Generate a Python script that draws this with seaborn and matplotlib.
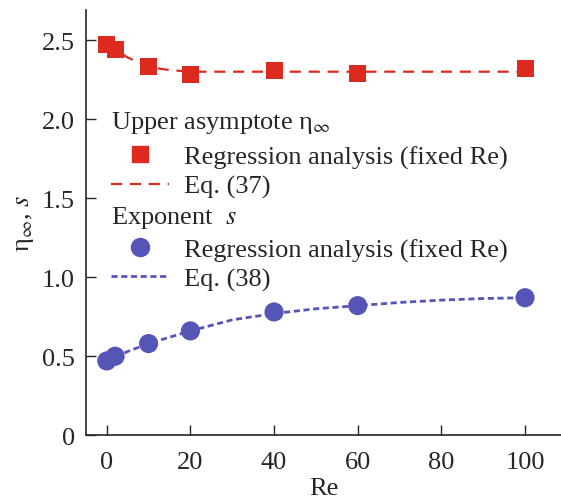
import matplotlib
matplotlib.use("Agg")
import matplotlib.pyplot as plt
import seaborn as sns
import pandas as pd
from matplotlib.lines import Line2D

# Data
re_pts = [0, 2, 10, 20, 40, 60, 100]
eta_pts = [2.47, 2.44, 2.33, 2.28, 2.31, 2.29, 2.32]
s_pts = [0.47, 0.50, 0.58, 0.66, 0.78, 0.82, 0.87]

re_eq37 = [0, 5, 10, 15, 20, 30, 40, 60, 80, 100]
eta_eq37 = [2.47, 2.39, 2.33, 2.31, 2.30, 2.30, 2.30, 2.30, 2.30, 2.30]

re_eq38 = [0, 5, 10, 20, 30, 40, 50, 60, 70, 80, 90, 100]
s_eq38 = [0.47, 0.53, 0.58, 0.66, 0.73, 0.77, 0.80, 0.82, 0.84, 0.855, 0.865, 0.87]

xticks = [0, 20, 40, 60, 80, 100]
yticks = [0, 0.5, 1.0, 1.5, 2.0, 2.5]
yticklabels = ["0", "0.5", "1.0", "1.5", "2.0", "2.5"]

RED = "#dc2a1e"
BLUE = "#5555b8"
FS = 19

sns.set_style("ticks")
plt.rcParams["font.family"] = ["Liberation Serif", "DejaVu Serif"]
plt.rcParams["mathtext.fontset"] = "stix"

fig, ax = plt.subplots(figsize=(5.61, 5.02), dpi=100)
fig.subplots_adjust(left=0.153, right=1.0, bottom=0.131, top=0.978)

df_pts = pd.DataFrame({"Re": re_pts, "eta": eta_pts, "s": s_pts})
df37 = pd.DataFrame({"Re": re_eq37, "eta": eta_eq37})
df38 = pd.DataFrame({"Re": re_eq38, "s": s_eq38})

sns.lineplot(data=df37, x="Re", y="eta", ax=ax, color=RED, lw=1.6,
             linestyle=(0, (5, 3.5)), zorder=2)
sns.lineplot(data=df38, x="Re", y="s", ax=ax, color=BLUE, lw=2.0,
             linestyle=(0, (2.2, 1.3)), zorder=2)
sns.scatterplot(data=df_pts, x="Re", y="eta", ax=ax, marker="s", s=150,
                color=RED, edgecolor="none", zorder=3)
sns.scatterplot(data=df_pts, x="Re", y="s", ax=ax, marker="o", s=190,
                color=BLUE, edgecolor="none", zorder=3)

ax.set_xlim(-5, 108.6)
ax.set_ylim(0, 2.69)
ax.set_xticks(xticks)
ax.set_yticks(yticks)
ax.set_yticklabels(yticklabels)
ax.tick_params(direction="in", length=7, width=1, labelsize=FS, pad=8)
ax.tick_params(axis="x", pad=11)
for sp in ["top", "right"]:
    ax.spines[sp].set_visible(False)
for sp in ["left", "bottom"]:
    ax.spines[sp].set_linewidth(1.2)
ax.set_xlabel("Re", fontsize=FS, labelpad=3)
ax.set_ylabel("η$_{\\infty}$, $s$", fontsize=FS, labelpad=4)

h_sq = Line2D([], [], marker="s", ms=11.5, color=RED, ls="none")
h_37 = Line2D([], [], color=RED, lw=1.6, ls=(0, (5, 3.5)))
h_ci = Line2D([], [], marker="o", ms=13, color=BLUE, ls="none")
h_38 = Line2D([], [], color=BLUE, lw=2.0, ls=(0, (2.2, 1.3)))

common = dict(frameon=True, fontsize=FS, title_fontsize=FS, alignment="left",
              handlelength=2.2, handletextpad=0.55, labelspacing=0.2,
              borderpad=0.15, loc="upper left", borderaxespad=0)
leg1 = ax.legend([h_sq, h_37], ["Regression analysis (fixed Re)", "Eq. (37)"],
                 title="Upper asymptote η$_{\\infty}$",
                 bbox_to_anchor=(0.045, 0.776), **common)
leg1._legend_box.sep = 7.2
leg1.get_frame().set_edgecolor("none")
leg1.get_frame().set_facecolor("white")
leg1.get_frame().set_alpha(1)
ax.add_artist(leg1)
leg2 = ax.legend([h_ci, h_38], ["Regression analysis (fixed Re)", "Eq. (38)"],
                 title="Exponent  $s$",
                 bbox_to_anchor=(0.045, 0.553), **common)
leg2._legend_box.sep = 5.5
leg2.get_frame().set_edgecolor("none")
leg2.get_frame().set_facecolor("white")
leg2.get_frame().set_alpha(1)

fig.savefig("out.png", dpi=100)
